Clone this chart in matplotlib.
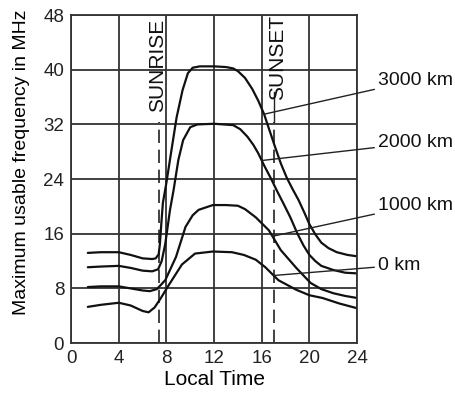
"""Maximum usable frequency vs local time for several path lengths."""
import matplotlib
matplotlib.use("Agg")
import matplotlib.pyplot as plt  # noqa: E402
import numpy as np  # noqa: E402

plt.rcParams["font.family"] = ["Liberation Sans", "DejaVu Sans"]

# Curves (local hour, MHz).
hours_3000 = [1.4, 2.5, 4.0, 5.0, 6.0, 6.8, 7.1, 7.35, 7.45, 7.55, 7.7, 8.0, 8.4,
              8.85, 9.35, 9.8, 10.2, 10.8, 12.0, 13.0, 13.6, 14.0, 14.6, 15.2,
              15.7, 16.2, 16.6, 17.1, 17.6, 18.1, 18.6, 19.1, 19.6, 20.0, 20.5,
              21.0, 21.6, 22.3, 23.2, 24.0]
mhz_3000 = [13.2, 13.3, 13.3, 12.9, 12.4, 12.3, 12.4, 13.0, 14.5, 17.0, 20.5,
            23.5, 28.0, 33.0, 37.0, 39.5, 40.3, 40.5, 40.5, 40.4, 40.2, 39.8,
            38.8, 37.2, 35.5, 33.5, 31.4, 28.8, 26.3, 24.2, 22.5, 20.9, 19.0,
            17.4, 15.9, 14.7, 13.9, 13.3, 12.9, 12.7]

hours_2000 = [1.4, 2.5, 4.0, 5.0, 6.0, 6.8, 7.3, 7.6, 7.9, 8.1, 8.3, 8.6, 9.0,
              9.4, 10.0, 10.6, 12.0, 13.6, 14.2, 14.8, 15.3, 15.7, 16.2, 16.8,
              17.3, 17.8, 18.4, 19.0, 19.5, 20.0, 20.5, 21.0, 22.0, 23.0, 24.0]
mhz_2000 = [11.1, 11.2, 11.3, 11.0, 10.6, 10.5, 10.8, 12.0, 14.5, 17.0, 19.5,
            22.4, 26.8, 29.7, 31.6, 32.0, 32.1, 31.9, 31.3, 30.2, 29.0, 27.8,
            26.0, 24.0, 22.2, 20.5, 18.4, 16.0, 14.3, 12.9, 12.0, 11.3, 10.7,
            10.3, 10.2]

hours_1000 = [1.4, 2.5, 4.0, 5.0, 6.0, 6.6, 7.2, 7.9, 8.8, 9.6, 10.2, 10.7, 11.9,
              13.0, 14.0, 14.6, 15.5, 16.6, 17.6, 18.9, 19.5, 20.1, 21.0, 22.0,
              23.0, 24.0]
mhz_1000 = [8.2, 8.3, 8.3, 8.0, 7.7, 7.6, 7.9, 9.2, 12.6, 17.0, 18.7, 19.5, 20.2,
            20.2, 20.1, 19.6, 18.4, 16.5, 13.6, 11.0, 9.9, 8.8, 7.9, 7.3, 6.9, 6.6]

hours_0 = [1.4, 2.5, 4.0, 5.0, 6.0, 6.5, 7.0, 7.5, 8.2, 9.3, 10.4, 11.9, 13.5,
           14.5, 15.5, 16.3, 17.4, 18.9, 20.0, 21.1, 22.5, 24.0]
mhz_0 = [5.3, 5.6, 5.9, 5.5, 4.7, 4.5, 5.2, 6.5, 8.5, 11.5, 13.1, 13.4, 13.3,
         12.9, 12.2, 11.1, 9.2, 7.8, 7.0, 6.6, 5.8, 5.1]

curve_labels = ["3000 km", "2000 km", "1000 km", "0 km"]
label_hours = [16.2, 16.0, 16.9, 17.0]     # where each leader touches its curve
label_text_y = [38.5, 29.3, 20.2, 11.4]

sunrise_hour = 7.4
sunset_hour = 17.0

x_ticks = [0, 4, 8, 12, 16, 20, 24]
y_ticks = [0, 8, 16, 24, 32, 40, 48]


def main():
    fig = plt.figure(figsize=(4.56, 3.98), dpi=100)
    ax = fig.add_axes([0.156, 0.138, 0.627, 0.824])

    ax.set_xlim(0, 24)
    ax.set_ylim(0, 48)
    ax.set_xticks(x_ticks)
    ax.set_yticks(y_ticks)
    ax.tick_params(length=0, labelsize=13.5, pad=5, colors="#222222")
    ax.grid(True, color="#333333", lw=1.3)
    ax.set_axisbelow(True)
    for s in ax.spines.values():
        s.set_color("#333333")
        s.set_linewidth(1.3)

    # Sunrise / sunset markers.
    ax.plot([sunrise_hour, sunrise_hour], [0, 32.3], color="#222222", lw=1.2,
            ls=(0, (8, 4)))
    ax.plot([sunset_hour, sunset_hour], [0, 32.3], color="#222222", lw=1.2,
            ls=(0, (8, 4)))
    ax.plot([sunset_hour, sunset_hour], [32.3, 36.8], color="#222222", lw=1.0)
    ax.text(sunrise_hour - 0.15, 40.6, "SUNRISE", rotation=90, ha="center",
            va="center", fontsize=15, color="#111111")
    ax.text(sunset_hour + 0.35, 41.8, "SUNSET", rotation=90, ha="center",
            va="center", fontsize=15, color="#111111")

    curves = [(hours_3000, mhz_3000), (hours_2000, mhz_2000),
              (hours_1000, mhz_1000), (hours_0, mhz_0)]
    for (h, f), name, lx, ty in zip(curves, curve_labels, label_hours, label_text_y):
        ax.plot(h, f, color="#111111", lw=1.6, solid_capstyle="round")
        ly = np.interp(lx, h, f)
        ax.annotate(name, xy=(lx, ly), xytext=(25.8, ty), textcoords="data",
                    fontsize=14, va="center", ha="left", color="#111111",
                    annotation_clip=False,
                    arrowprops=dict(arrowstyle="-", color="#222222", lw=1.0,
                                    shrinkA=1, shrinkB=0))

    ax.set_xlabel("Local Time", fontsize=15, labelpad=2)
    ax.set_ylabel("Maximum usable frequency in MHz", fontsize=14)
    ax.yaxis.set_label_coords(-0.145, 0.55)

    fig.savefig("out.png", dpi=100)
    plt.close(fig)


if __name__ == "__main__":
    main()
